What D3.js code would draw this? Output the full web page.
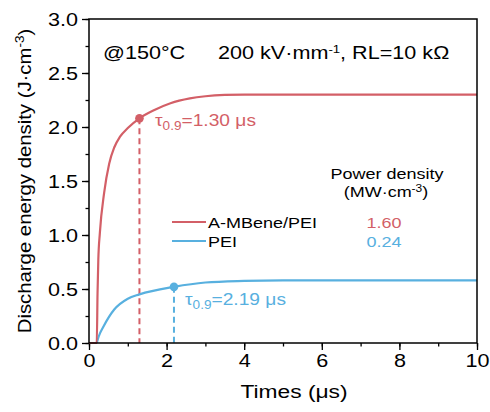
<!DOCTYPE html>
<html>
<head>
<meta charset="utf-8">
<script src="https://cdn.jsdelivr.net/npm/d3@7"></script>
<style>
  html, body { margin: 0; padding: 0; background: #fff; }
  svg { display: block; font-family: "Liberation Sans", Arial, sans-serif; }
</style>
</head>
<body>
<svg id="chart" width="490" height="412"></svg>
<script>
// Discharge energy density vs. time (µs)
const compositeTime  = [0, 0.2, 0.22, 0.24, 0.28, 0.39, 0.52, 0.65, 0.80, 1.0, 1.30, 1.7, 2.1, 2.6, 3.0, 3.5, 4.0, 6.0, 8.0, 10.0];
const compositeValue = [0, 0, 0.46, 0.77, 1.02, 1.39, 1.66, 1.81, 1.91, 1.99, 2.08, 2.16, 2.22, 2.265, 2.285, 2.297, 2.30, 2.30, 2.30, 2.30];
const peiTime  = [0.2, 0.25, 0.37, 0.65, 1.0, 1.3, 2.19, 3.0, 4.0, 5.0, 6.0, 8.0, 10.0];
const peiValue = [0, 0.06, 0.15, 0.31, 0.41, 0.45, 0.52, 0.56, 0.575, 0.58, 0.58, 0.58, 0.58];

const seriesNames  = ["A-MBene/PEI", "PEI"];
const powerDensity = ["1.60", "0.24"];
const tau09        = [1.30, 2.19];
const tauEnergy    = [2.08, 0.52];

const xTicks = [0, 2, 4, 6, 8, 10];
const yTicks = [0, 0.5, 1.0, 1.5, 2.0, 2.5, 3.0];

const RED = "#d35f67", BLUE = "#58b0df";
const colors = [RED, BLUE];
const SX = 1.2; // horizontal stretch of the lettering

const svg = d3.select("#chart");
const L = 89, R = 477, T = 19, B = 343;

const x = d3.scaleLinear().domain([0, 10]).range([L, R]);
const y = d3.scaleLinear().domain([0, 3]).range([B, T]);

// text helper: anchored at (px, py), stretched horizontally
function label(px, py, size, anchor, fill, sx) {
  return svg.append("text")
    .attr("transform", `translate(${px},${py}) scale(${sx || SX},1)`)
    .attr("text-anchor", anchor || "start")
    .attr("fill", fill || "#000")
    .style("font-size", size + "px");
}

// minor ticks
const xMinor = d3.range(0, 10.01, 1);
const yMinor = d3.range(0, 3.01, 0.25);
svg.append("g").attr("transform", `translate(0,${B})`)
  .call(d3.axisBottom(x).tickValues(xMinor).tickSize(3.5).tickFormat(""))
  .call(g => g.select(".domain").remove())
  .selectAll("line").attr("stroke", "#000").attr("stroke-width", 1.3);
svg.append("g").attr("transform", `translate(${L},0)`)
  .call(d3.axisLeft(y).tickValues(yMinor).tickSize(3.5).tickFormat(""))
  .call(g => g.select(".domain").remove())
  .selectAll("line").attr("stroke", "#000").attr("stroke-width", 1.3);

// major ticks and labels
const xAxis = svg.append("g").attr("transform", `translate(0,${B})`)
  .call(d3.axisBottom(x).tickValues(xTicks).tickSize(7).tickPadding(4).tickFormat(d3.format("d")));
const yAxis = svg.append("g").attr("transform", `translate(${L},0)`)
  .call(d3.axisLeft(y).tickValues(yTicks).tickSize(7).tickPadding(4).tickFormat(d3.format(".1f")));
[xAxis, yAxis].forEach(g => {
  g.select(".domain").remove();
  g.selectAll("line").attr("stroke", "#000").attr("stroke-width", 1.3);
  g.selectAll("text").attr("fill", "#000").style("font-size", "18px")
    .style("font-family", '"Liberation Sans", Arial, sans-serif');
});
xAxis.selectAll("text").attr("transform", `scale(${SX},1)`);
yAxis.selectAll("text").attr("x", 0).attr("dy", "0.35em")
  .attr("transform", `translate(-11,0) scale(${SX},1)`);

// dashed drop lines at tau_0.9
tau09.forEach((t, i) => {
  svg.append("line")
    .attr("x1", x(t)).attr("x2", x(t))
    .attr("y1", y(tauEnergy[i])).attr("y2", y(0))
    .attr("stroke", colors[i]).attr("stroke-width", 2)
    .attr("stroke-dasharray", "6,4");
});

// curves
const line = d3.line().x(d => x(d[0])).y(d => y(d[1])).curve(d3.curveMonotoneX);
svg.append("path").datum(d3.zip(peiTime, peiValue)).attr("d", line)
  .attr("fill", "none").attr("stroke", BLUE).attr("stroke-width", 2.2);
svg.append("path").datum(d3.zip(compositeTime, compositeValue)).attr("d", line)
  .attr("fill", "none").attr("stroke", RED).attr("stroke-width", 2.2);

// tau markers
tau09.forEach((t, i) => {
  svg.append("circle").attr("cx", x(t)).attr("cy", y(tauEnergy[i]))
    .attr("r", 4.3).attr("fill", colors[i]);
});

// plot frame
svg.append("rect").attr("x", L).attr("y", T).attr("width", R - L).attr("height", B - T)
  .attr("fill", "none").attr("stroke", "#000").attr("stroke-width", 1.5);

// tau labels
function tauLabel(px, py, t, color) {
  const tx = label(px, py, 17, "start", color, 1.13);
  tx.append("tspan").text("τ");
  tx.append("tspan").text("0.9").attr("dy", 4).style("font-size", "12px");
  tx.append("tspan").text(`=${t.toFixed(2)} μs`).attr("dy", -4);
}
tauLabel(155, 126, tau09[0], RED);
tauLabel(185, 305, tau09[1], BLUE);

// measurement conditions
label(103, 59, 18).text("@150°C");
const cond = label(218, 59, 18);
cond.append("tspan").text("200 kV·mm");
cond.append("tspan").text("-1").attr("dy", -6).style("font-size", "11px");
cond.append("tspan").text(", RL=10 kΩ").attr("dy", 6);

// axis titles
label(294, 398, 19, "middle").text("Times (μs)");
const yt = svg.append("text")
  .attr("transform", `translate(31,${(T + B) / 2}) rotate(-90) scale(1.13,1)`)
  .attr("text-anchor", "middle").style("font-size", "18px");
yt.append("tspan").text("Discharge energy density (J·cm");
yt.append("tspan").text("-3").attr("dy", -7).style("font-size", "12px");
yt.append("tspan").text(")").attr("dy", 7);

// legend
label(387, 179, 15, "middle").text("Power density");
const pu = label(386, 197, 15, "middle");
pu.append("tspan").text("(MW·cm");
pu.append("tspan").text("-3").attr("dy", -5).style("font-size", "10px");
pu.append("tspan").text(")").attr("dy", 5);

const rowY = [222, 241];
seriesNames.forEach((name, i) => {
  svg.append("line").attr("x1", 172).attr("x2", 206).attr("y1", rowY[i]).attr("y2", rowY[i])
    .attr("stroke", colors[i]).attr("stroke-width", 2.2);
  label(208, rowY[i] + 6, 15).text(name);
  label(384, rowY[i] + 6, 15, "middle", colors[i]).text(powerDensity[i]);
});
</script>
</body>
</html>
